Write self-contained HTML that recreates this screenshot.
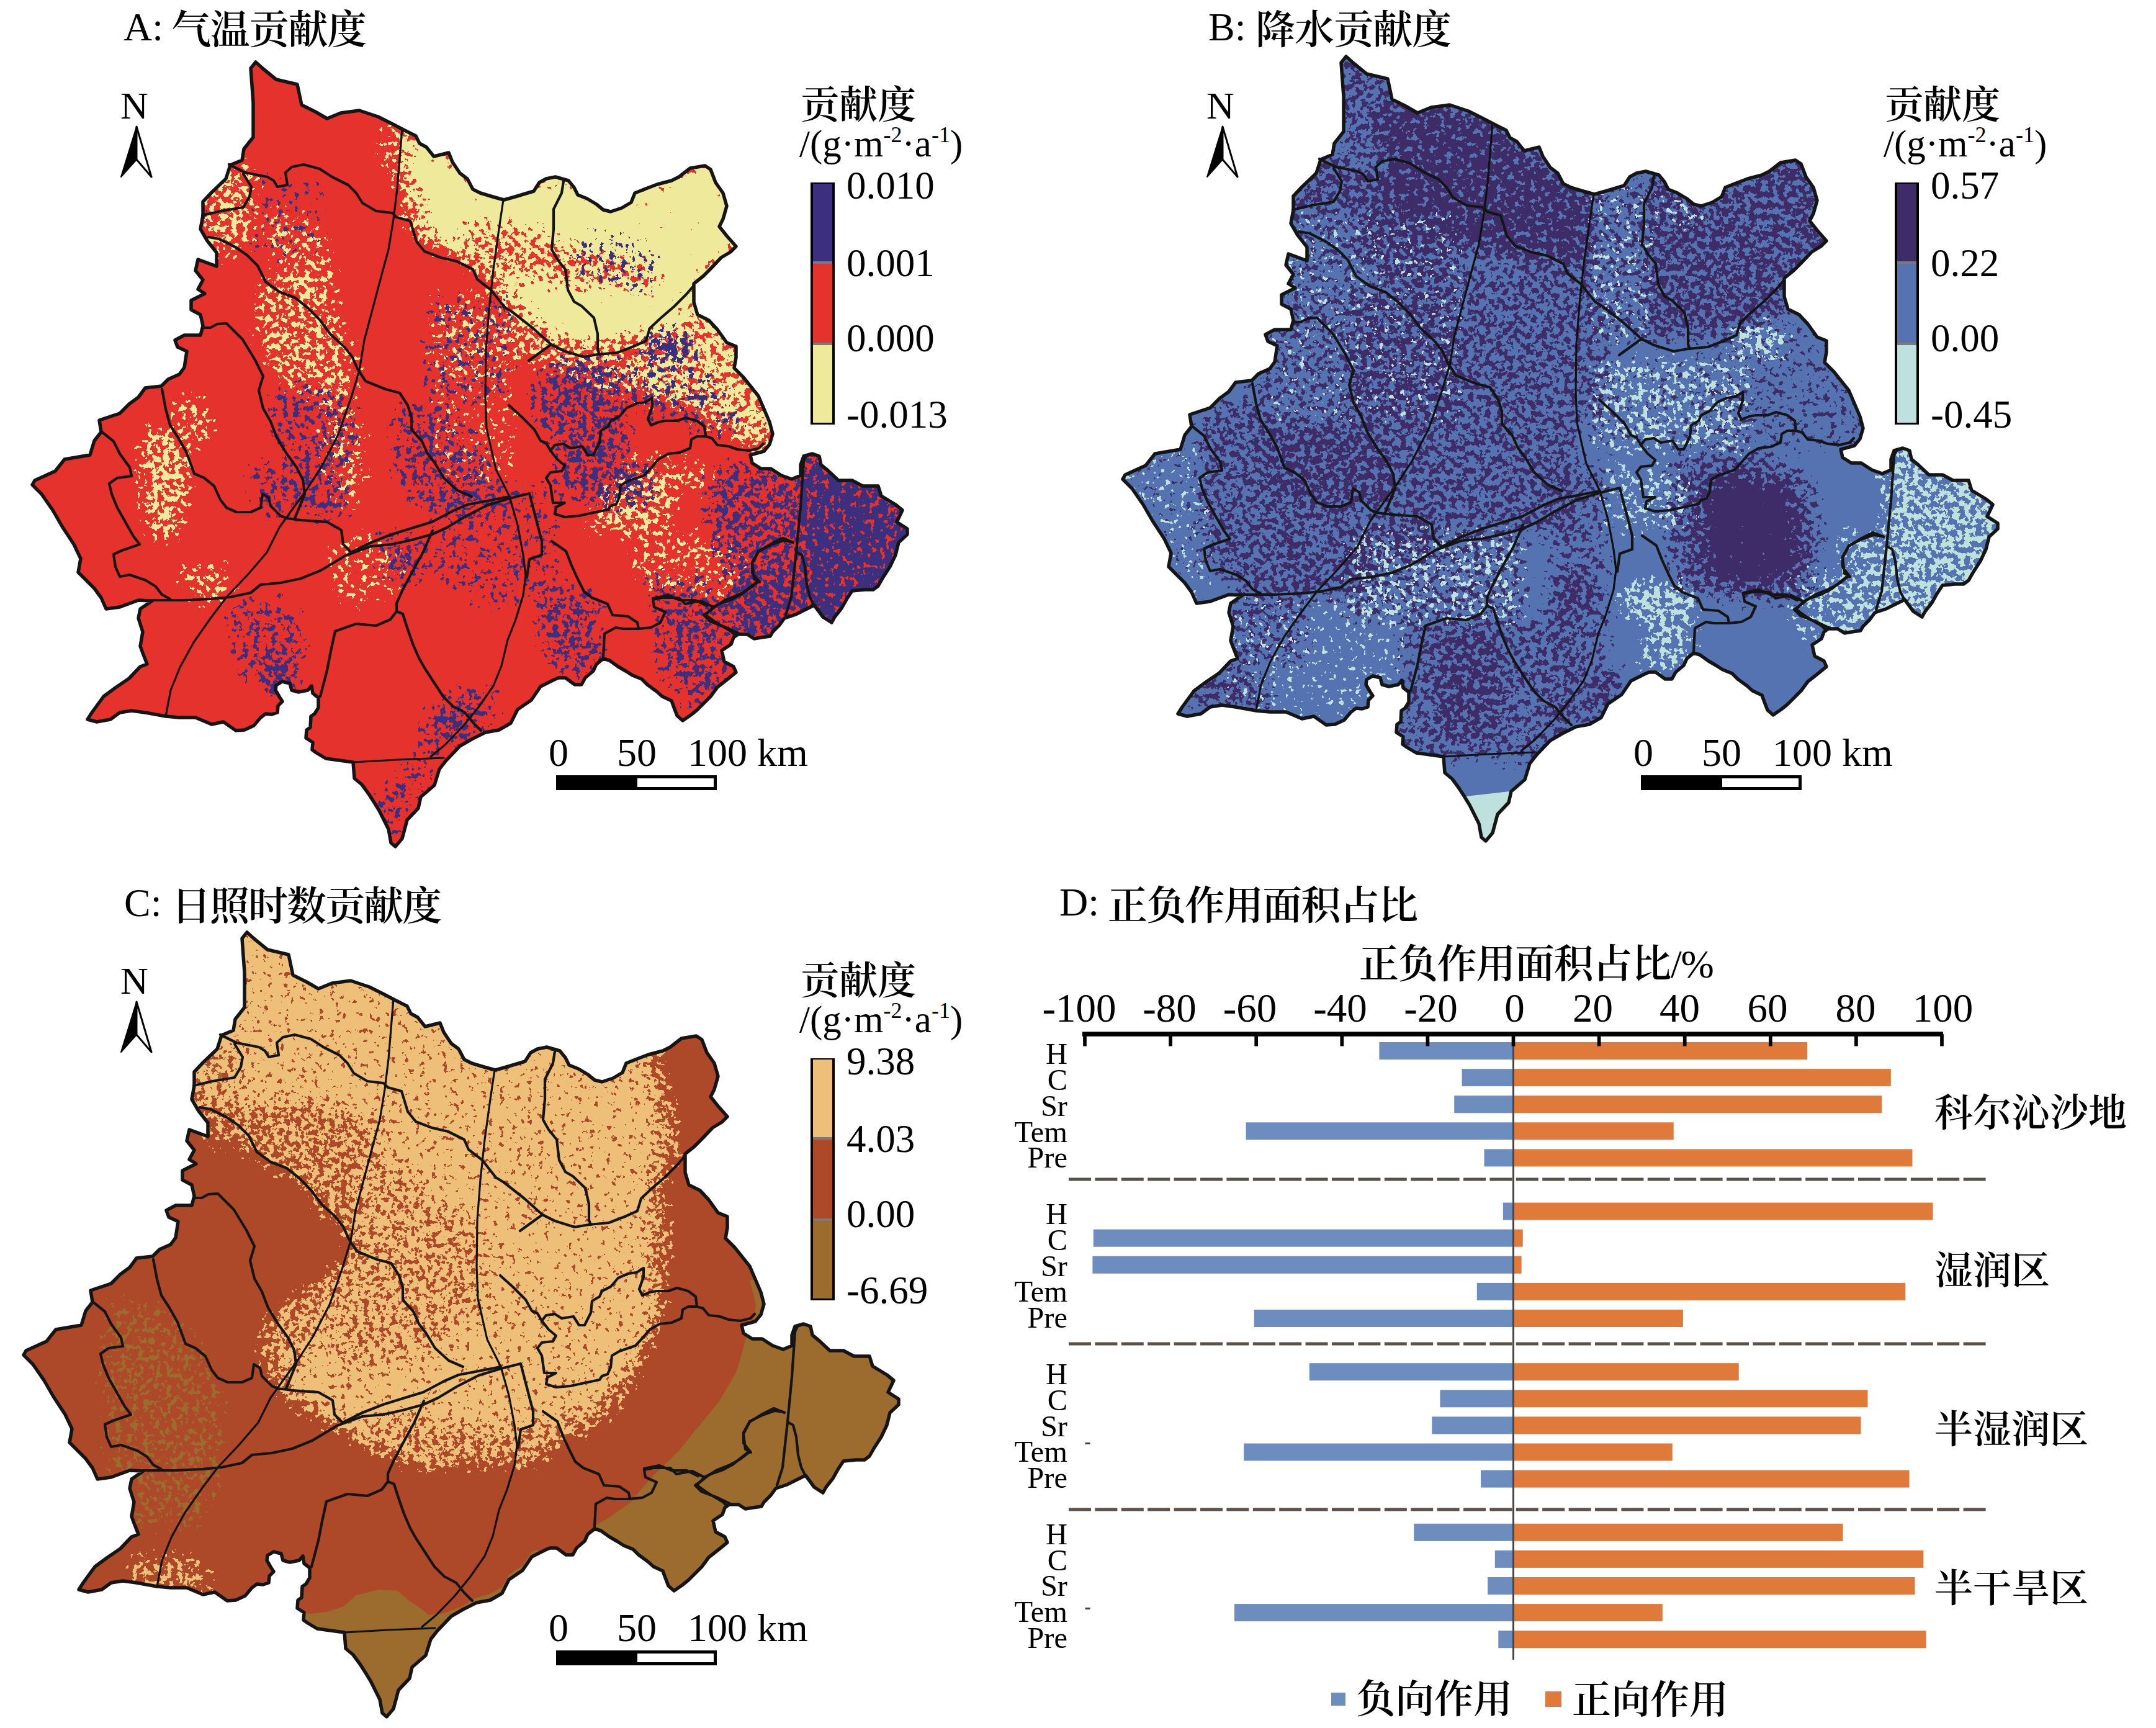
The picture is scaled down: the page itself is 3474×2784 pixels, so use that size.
<!DOCTYPE html>
<html><head><meta charset="utf-8"><title>贡献度</title>
<style>html,body{margin:0;padding:0;background:#fff;}body{width:3474px;height:2784px;overflow:hidden;}svg{display:block;}</style>
</head><body>
<svg xmlns="http://www.w3.org/2000/svg" width="3474" height="2784" viewBox="0 0 3474 2784">
<rect width="3474" height="2784" fill="#fff"/>
<defs><clipPath id="mclip"><path d="M412 100L423 110L445 128L479 136L486 169L508 180L527 191L549 182L579 178L609 188L631 199L652 210L670 219L676 231L687 237L699 252L711 249L723 246L729 261L741 279L753 288L762 305L774 311L794 317L812 322L830 317L860 308L869 294L880 288L895 285L916 291L925 302L931 314L946 320L961 329L972 338L984 341L1002 335L1017 326L1023 311L1038 305L1059 297L1082 291L1094 285L1112 271L1136 267L1145 273L1153 294L1165 311L1171 332L1165 353L1159 365L1171 380L1186 397L1177 406L1162 415L1145 433L1133 445L1118 457L1118 487L1124 507L1142 516L1156 531L1171 552L1186 558L1186 576L1183 593L1198 608L1210 623L1222 638L1231 659L1240 680L1245 699L1240 716L1231 727L1209 733L1212 746L1226 755L1242 755L1259 766L1276 772L1290 766L1290 749L1295 735L1309 731L1320 735L1323 749L1334 758L1351 774L1373 774L1390 783L1415 783L1420 799L1443 813L1454 822L1445 841L1462 852L1462 861L1448 874L1443 894L1434 913L1423 930L1415 944L1407 950L1393 950L1373 952L1365 964L1356 980L1345 994L1340 1003L1326 994L1312 975L1300 981L1282 990L1264 996L1256 1007L1245 1018L1241 1025L1227 1027L1215 1029L1204 1022L1189 1022L1182 1027L1178 1038L1163 1048L1167 1066L1182 1074L1186 1083L1175 1092L1165 1100L1156 1107L1145 1122L1134 1133L1123 1144L1113 1152L1100 1161L1091 1153L1086 1140L1082 1129L1067 1122L1058 1114L1043 1103L1034 1094L1019 1088L1008 1081L996 1074L982 1064L972 1061L961 1070L956 1081L943 1092L937 1103L926 1103L911 1092L900 1092L893 1095L871 1106L856 1128L834 1143L823 1165L804 1176L782 1180L760 1191L741 1202L719 1225L708 1239L700 1265L678 1284L674 1302L656 1321L648 1351L637 1364L630 1358L626 1336L611 1306L603 1293L594 1279L583 1264L571 1254L569 1228L554 1226L525 1222L510 1213L503 1208L504 1196L493 1189L494 1176L500 1172L501 1154L507 1150L513 1140L513 1124L504 1117L502 1105L496 1112L481 1115L470 1112L467 1101L455 1098L445 1104L444 1112L451 1124L455 1130L448 1137L447 1148L438 1151L428 1150L420 1156L409 1169L394 1176L380 1177L360 1163L341 1167L315 1156L289 1156L267 1154L234 1148L212 1145L193 1148L178 1159L156 1163L141 1159L148 1148L167 1122L186 1108L208 1093L226 1074L237 1070L230 1052L226 1041L230 1018L223 996L226 981L245 968L223 967L193 978L171 981L163 963L152 948L141 937L126 922L130 900L119 877L100 848L85 822L67 796L52 781L56 774L89 759L104 740L145 733L152 710L163 696L160 677L193 666L208 651L223 640L234 625L260 622L271 611L289 603L297 592L301 566L286 559L282 548L297 540L323 540L327 525L323 507L308 499L308 484L330 473L319 466L327 451L315 436L319 418L349 429L349 407L334 388L323 369L327 347L327 325L341 310L364 288L371 266L390 258L393 240L408 221L408 165L404 110Z"/></clipPath><filter id="d1" filterUnits="userSpaceOnUse" x="0" y="60" width="1520" height="1340" color-interpolation-filters="sRGB"><feGaussianBlur in="SourceAlpha" stdDeviation="12" result="b"/><feComponentTransfer in="b" result="d"><feFuncA type="table" tableValues="0.000 0.300 0.334 0.365 0.393 0.416 0.441 0.454 0.469 0.485 0.499 0.516 0.531 0.546 0.561 0.585 0.608 0.633 0.663 0.699 1.000"/></feComponentTransfer><feTurbulence type="fractalNoise" baseFrequency="0.11" numOctaves="3" seed="18" result="n"/><feColorMatrix in="n" type="matrix" values="0 0 0 0 0 0 0 0 0 0 0 0 0 0 0 1 0 0 0 0" result="na"/><feComposite in="na" in2="d" operator="arithmetic" k1="0" k2="1" k3="1" k4="-1" result="s"/><feComponentTransfer in="s" result="m"><feFuncA type="discrete" tableValues="0 1 1 1 1 1 1 1 1 1 1 1 1 1 1 1 1 1 1 1 1 1 1 1 1 1 1 1 1 1 1 1 1 1 1 1 1 1 1 1 1 1 1 1 1 1 1 1 1 1 1 1 1 1 1 1 1 1 1 1 1"/></feComponentTransfer><feFlood flood-color="#efe99b"/><feComposite in2="m" operator="in"/></filter><filter id="d2" filterUnits="userSpaceOnUse" x="0" y="60" width="1520" height="1340" color-interpolation-filters="sRGB"><feGaussianBlur in="SourceAlpha" stdDeviation="12" result="b"/><feComponentTransfer in="b" result="d"><feFuncA type="table" tableValues="0.000 0.300 0.334 0.365 0.393 0.416 0.441 0.454 0.469 0.485 0.499 0.516 0.531 0.546 0.561 0.585 0.608 0.633 0.663 0.699 1.000"/></feComponentTransfer><feTurbulence type="fractalNoise" baseFrequency="0.11" numOctaves="3" seed="25" result="n"/><feColorMatrix in="n" type="matrix" values="0 0 0 0 0 0 0 0 0 0 0 0 0 0 0 1 0 0 0 0" result="na"/><feComposite in="na" in2="d" operator="arithmetic" k1="0" k2="1" k3="1" k4="-1" result="s"/><feComponentTransfer in="s" result="m"><feFuncA type="discrete" tableValues="0 1 1 1 1 1 1 1 1 1 1 1 1 1 1 1 1 1 1 1 1 1 1 1 1 1 1 1 1 1 1 1 1 1 1 1 1 1 1 1 1 1 1 1 1 1 1 1 1 1 1 1 1 1 1 1 1 1 1 1 1"/></feComponentTransfer><feFlood flood-color="#e5322d"/><feComposite in2="m" operator="in"/></filter><filter id="d3" filterUnits="userSpaceOnUse" x="0" y="60" width="1520" height="1340" color-interpolation-filters="sRGB"><feGaussianBlur in="SourceAlpha" stdDeviation="12" result="b"/><feComponentTransfer in="b" result="d"><feFuncA type="table" tableValues="0.000 0.300 0.334 0.365 0.393 0.416 0.441 0.454 0.469 0.485 0.499 0.516 0.531 0.546 0.561 0.585 0.608 0.633 0.663 0.699 1.000"/></feComponentTransfer><feTurbulence type="fractalNoise" baseFrequency="0.11" numOctaves="3" seed="32" result="n"/><feColorMatrix in="n" type="matrix" values="0 0 0 0 0 0 0 0 0 0 0 0 0 0 0 1 0 0 0 0" result="na"/><feComposite in="na" in2="d" operator="arithmetic" k1="0" k2="1" k3="1" k4="-1" result="s"/><feComponentTransfer in="s" result="m"><feFuncA type="discrete" tableValues="0 1 1 1 1 1 1 1 1 1 1 1 1 1 1 1 1 1 1 1 1 1 1 1 1 1 1 1 1 1 1 1 1 1 1 1 1 1 1 1 1 1 1 1 1 1 1 1 1 1 1 1 1 1 1 1 1 1 1 1 1"/></feComponentTransfer><feFlood flood-color="#3c2f7d"/><feComposite in2="m" operator="in"/></filter><filter id="d4" filterUnits="userSpaceOnUse" x="0" y="60" width="1520" height="1340" color-interpolation-filters="sRGB"><feGaussianBlur in="SourceAlpha" stdDeviation="12" result="b"/><feComponentTransfer in="b" result="d"><feFuncA type="table" tableValues="0.000 0.300 0.334 0.365 0.393 0.416 0.441 0.454 0.469 0.485 0.499 0.516 0.531 0.546 0.561 0.585 0.608 0.633 0.663 0.699 1.000"/></feComponentTransfer><feTurbulence type="fractalNoise" baseFrequency="0.11" numOctaves="3" seed="39" result="n"/><feColorMatrix in="n" type="matrix" values="0 0 0 0 0 0 0 0 0 0 0 0 0 0 0 1 0 0 0 0" result="na"/><feComposite in="na" in2="d" operator="arithmetic" k1="0" k2="1" k3="1" k4="-1" result="s"/><feComponentTransfer in="s" result="m"><feFuncA type="discrete" tableValues="0 1 1 1 1 1 1 1 1 1 1 1 1 1 1 1 1 1 1 1 1 1 1 1 1 1 1 1 1 1 1 1 1 1 1 1 1 1 1 1 1 1 1 1 1 1 1 1 1 1 1 1 1 1 1 1 1 1 1 1 1"/></feComponentTransfer><feFlood flood-color="#3d2c68"/><feComposite in2="m" operator="in"/></filter><filter id="d5" filterUnits="userSpaceOnUse" x="0" y="60" width="1520" height="1340" color-interpolation-filters="sRGB"><feGaussianBlur in="SourceAlpha" stdDeviation="12" result="b"/><feComponentTransfer in="b" result="d"><feFuncA type="table" tableValues="0.000 0.300 0.334 0.365 0.393 0.416 0.441 0.454 0.469 0.485 0.499 0.516 0.531 0.546 0.561 0.585 0.608 0.633 0.663 0.699 1.000"/></feComponentTransfer><feTurbulence type="fractalNoise" baseFrequency="0.11" numOctaves="3" seed="46" result="n"/><feColorMatrix in="n" type="matrix" values="0 0 0 0 0 0 0 0 0 0 0 0 0 0 0 1 0 0 0 0" result="na"/><feComposite in="na" in2="d" operator="arithmetic" k1="0" k2="1" k3="1" k4="-1" result="s"/><feComponentTransfer in="s" result="m"><feFuncA type="discrete" tableValues="0 1 1 1 1 1 1 1 1 1 1 1 1 1 1 1 1 1 1 1 1 1 1 1 1 1 1 1 1 1 1 1 1 1 1 1 1 1 1 1 1 1 1 1 1 1 1 1 1 1 1 1 1 1 1 1 1 1 1 1 1"/></feComponentTransfer><feFlood flood-color="#bfe1dd"/><feComposite in2="m" operator="in"/></filter><filter id="d6" filterUnits="userSpaceOnUse" x="0" y="60" width="1520" height="1340" color-interpolation-filters="sRGB"><feGaussianBlur in="SourceAlpha" stdDeviation="12" result="b"/><feComponentTransfer in="b" result="d"><feFuncA type="table" tableValues="0.000 0.300 0.334 0.365 0.393 0.416 0.441 0.454 0.469 0.485 0.499 0.516 0.531 0.546 0.561 0.585 0.608 0.633 0.663 0.699 1.000"/></feComponentTransfer><feTurbulence type="fractalNoise" baseFrequency="0.11" numOctaves="3" seed="53" result="n"/><feColorMatrix in="n" type="matrix" values="0 0 0 0 0 0 0 0 0 0 0 0 0 0 0 1 0 0 0 0" result="na"/><feComposite in="na" in2="d" operator="arithmetic" k1="0" k2="1" k3="1" k4="-1" result="s"/><feComponentTransfer in="s" result="m"><feFuncA type="discrete" tableValues="0 1 1 1 1 1 1 1 1 1 1 1 1 1 1 1 1 1 1 1 1 1 1 1 1 1 1 1 1 1 1 1 1 1 1 1 1 1 1 1 1 1 1 1 1 1 1 1 1 1 1 1 1 1 1 1 1 1 1 1 1"/></feComponentTransfer><feFlood flood-color="#edbf78"/><feComposite in2="m" operator="in"/></filter><filter id="d7" filterUnits="userSpaceOnUse" x="0" y="60" width="1520" height="1340" color-interpolation-filters="sRGB"><feGaussianBlur in="SourceAlpha" stdDeviation="12" result="b"/><feComponentTransfer in="b" result="d"><feFuncA type="table" tableValues="0.000 0.300 0.334 0.365 0.393 0.416 0.441 0.454 0.469 0.485 0.499 0.516 0.531 0.546 0.561 0.585 0.608 0.633 0.663 0.699 1.000"/></feComponentTransfer><feTurbulence type="fractalNoise" baseFrequency="0.11" numOctaves="3" seed="60" result="n"/><feColorMatrix in="n" type="matrix" values="0 0 0 0 0 0 0 0 0 0 0 0 0 0 0 1 0 0 0 0" result="na"/><feComposite in="na" in2="d" operator="arithmetic" k1="0" k2="1" k3="1" k4="-1" result="s"/><feComponentTransfer in="s" result="m"><feFuncA type="discrete" tableValues="0 1 1 1 1 1 1 1 1 1 1 1 1 1 1 1 1 1 1 1 1 1 1 1 1 1 1 1 1 1 1 1 1 1 1 1 1 1 1 1 1 1 1 1 1 1 1 1 1 1 1 1 1 1 1 1 1 1 1 1 1"/></feComponentTransfer><feFlood flood-color="#ad4829"/><feComposite in2="m" operator="in"/></filter><filter id="d8" filterUnits="userSpaceOnUse" x="0" y="60" width="1520" height="1340" color-interpolation-filters="sRGB"><feGaussianBlur in="SourceAlpha" stdDeviation="12" result="b"/><feComponentTransfer in="b" result="d"><feFuncA type="table" tableValues="0.000 0.300 0.334 0.365 0.393 0.416 0.441 0.454 0.469 0.485 0.499 0.516 0.531 0.546 0.561 0.585 0.608 0.633 0.663 0.699 1.000"/></feComponentTransfer><feTurbulence type="fractalNoise" baseFrequency="0.11" numOctaves="3" seed="67" result="n"/><feColorMatrix in="n" type="matrix" values="0 0 0 0 0 0 0 0 0 0 0 0 0 0 0 1 0 0 0 0" result="na"/><feComposite in="na" in2="d" operator="arithmetic" k1="0" k2="1" k3="1" k4="-1" result="s"/><feComponentTransfer in="s" result="m"><feFuncA type="discrete" tableValues="0 1 1 1 1 1 1 1 1 1 1 1 1 1 1 1 1 1 1 1 1 1 1 1 1 1 1 1 1 1 1 1 1 1 1 1 1 1 1 1 1 1 1 1 1 1 1 1 1 1 1 1 1 1 1 1 1 1 1 1 1"/></feComponentTransfer><feFlood flood-color="#9c6b2e"/><feComposite in2="m" operator="in"/></filter></defs>
<g transform="translate(0 0)">
<g clip-path="url(#mclip)">
<path d="M412 100L423 110L445 128L479 136L486 169L508 180L527 191L549 182L579 178L609 188L631 199L652 210L670 219L676 231L687 237L699 252L711 249L723 246L729 261L741 279L753 288L762 305L774 311L794 317L812 322L830 317L860 308L869 294L880 288L895 285L916 291L925 302L931 314L946 320L961 329L972 338L984 341L1002 335L1017 326L1023 311L1038 305L1059 297L1082 291L1094 285L1112 271L1136 267L1145 273L1153 294L1165 311L1171 332L1165 353L1159 365L1171 380L1186 397L1177 406L1162 415L1145 433L1133 445L1118 457L1118 487L1124 507L1142 516L1156 531L1171 552L1186 558L1186 576L1183 593L1198 608L1210 623L1222 638L1231 659L1240 680L1245 699L1240 716L1231 727L1209 733L1212 746L1226 755L1242 755L1259 766L1276 772L1290 766L1290 749L1295 735L1309 731L1320 735L1323 749L1334 758L1351 774L1373 774L1390 783L1415 783L1420 799L1443 813L1454 822L1445 841L1462 852L1462 861L1448 874L1443 894L1434 913L1423 930L1415 944L1407 950L1393 950L1373 952L1365 964L1356 980L1345 994L1340 1003L1326 994L1312 975L1300 981L1282 990L1264 996L1256 1007L1245 1018L1241 1025L1227 1027L1215 1029L1204 1022L1189 1022L1182 1027L1178 1038L1163 1048L1167 1066L1182 1074L1186 1083L1175 1092L1165 1100L1156 1107L1145 1122L1134 1133L1123 1144L1113 1152L1100 1161L1091 1153L1086 1140L1082 1129L1067 1122L1058 1114L1043 1103L1034 1094L1019 1088L1008 1081L996 1074L982 1064L972 1061L961 1070L956 1081L943 1092L937 1103L926 1103L911 1092L900 1092L893 1095L871 1106L856 1128L834 1143L823 1165L804 1176L782 1180L760 1191L741 1202L719 1225L708 1239L700 1265L678 1284L674 1302L656 1321L648 1351L637 1364L630 1358L626 1336L611 1306L603 1293L594 1279L583 1264L571 1254L569 1228L554 1226L525 1222L510 1213L503 1208L504 1196L493 1189L494 1176L500 1172L501 1154L507 1150L513 1140L513 1124L504 1117L502 1105L496 1112L481 1115L470 1112L467 1101L455 1098L445 1104L444 1112L451 1124L455 1130L448 1137L447 1148L438 1151L428 1150L420 1156L409 1169L394 1176L380 1177L360 1163L341 1167L315 1156L289 1156L267 1154L234 1148L212 1145L193 1148L178 1159L156 1163L141 1159L148 1148L167 1122L186 1108L208 1093L226 1074L237 1070L230 1052L226 1041L230 1018L223 996L226 981L245 968L223 967L193 978L171 981L163 963L152 948L141 937L126 922L130 900L119 877L100 848L85 822L67 796L52 781L56 774L89 759L104 740L145 733L152 710L163 696L160 677L193 666L208 651L223 640L234 625L260 622L271 611L289 603L297 592L301 566L286 559L282 548L297 540L323 540L327 525L323 507L308 499L308 484L330 473L319 466L327 451L315 436L319 418L349 429L349 407L334 388L323 369L327 347L327 325L341 310L364 288L371 266L390 258L393 240L408 221L408 165L404 110Z" fill="#e5322d"/>
<g filter="url(#d1)"><polygon points="645,195 700,225 780,290 860,290 900,270 1000,320 1100,260 1160,260 1200,350 1190,410 1140,450 1118,470 1118,500 1100,530 1070,548 1026,552 980,560 937,560 877,535 830,505 810,472 790,445 760,425 730,405 700,395 672,375 655,330 648,280" fill-opacity="0.975"/><polygon points="1118,470 1150,480 1190,540 1200,600 1250,660 1260,735 1234,740 1200,710 1170,690 1140,675 1110,660 1080,650 1040,640 1006,620 1010,585 1040,565 1070,555 1100,535 1118,505" fill-opacity="0.720"/><polygon points="830,505 877,535 937,560 980,562 1010,585 1006,620 980,640 940,610 890,590 840,575 820,540" fill-opacity="0.500"/><polygon points="992,772 1040,765 1076,780 1090,820 1060,845 1000,856 950,850 960,820" fill-opacity="0.550"/><polygon points="1034,842 1100,850 1160,870 1200,910 1190,960 1120,965 1050,950 1010,900" fill-opacity="0.250"/><polygon points="997,740 1060,735 1120,745 1150,760 1130,790 1080,790 1030,770" fill-opacity="0.300"/><polygon points="334,265 380,262 410,280 408,330 400,380 370,414 340,410 330,350" fill-opacity="0.500"/><polygon points="427,340 480,345 520,380 538,430 540,488 500,480 460,440 430,400" fill-opacity="0.320"/><polygon points="426,456 475,440 523,462 540,511 566,560 572,608 556,657 523,641 475,625 436,592 416,544 419,495" fill-opacity="0.450"/><polygon points="523,650 570,660 588,720 585,790 560,820 530,780 520,700" fill-opacity="0.300"/><polygon points="231,700 270,690 300,720 300,770 290,830 280,865 245,860 235,800" fill-opacity="0.650"/><polygon points="286,641 320,640 335,680 332,716 300,716 288,680" fill-opacity="0.400"/><polygon points="297,910 340,905 375,925 371,963 330,968 300,955" fill-opacity="0.350"/><polygon points="612,210 650,215 650,284 620,284" fill-opacity="0.280"/><polygon points="700,480 825,480 825,600 760,620 700,600" fill-opacity="0.300"/><polygon points="700,620 825,620 830,760 760,780 700,760" fill-opacity="0.150"/><polygon points="530,870 600,860 650,900 640,960 580,980 530,950" fill-opacity="0.220"/></g>
<g filter="url(#d2)"><polygon points="744,366 818,366 907,395 1026,425 1062,438 1062,462 1026,460 907,458 818,443 760,415" fill-opacity="0.500"/><polygon points="640,290 672,300 690,360 660,360 645,330" fill-opacity="0.300"/></g>
<g filter="url(#d3)"><polygon points="1290,725 1330,740 1400,770 1470,830 1470,880 1430,960 1400,990 1340,1010 1300,1000 1290,900" fill-opacity="0.880"/><polygon points="1178,936 1240,920 1290,930 1300,1000 1260,1030 1200,1040 1170,1000" fill-opacity="0.720"/><polygon points="1150,755 1200,750 1270,760 1292,800 1292,930 1240,925 1180,930 1150,880 1140,810" fill-opacity="0.550"/><polygon points="1040,930 1100,925 1150,930 1180,960 1160,1000 1110,1010 1060,990" fill-opacity="0.300"/><polygon points="900,580 960,575 1000,600 1011,700 1000,770 978,730 930,720 880,700 860,650 870,610" fill-opacity="0.550"/><polygon points="895,717 960,725 1000,745 1048,760 1050,800 1030,814 980,815 930,805 900,780" fill-opacity="0.550"/><polygon points="1045,540 1090,538 1117,548 1117,575 1080,580 1048,575" fill-opacity="0.850"/><polygon points="1000,580 1100,580 1160,620 1200,680 1150,700 1080,680 1020,650" fill-opacity="0.300"/><polygon points="700,480 825,480 825,600 800,650 700,650 680,600" fill-opacity="0.220"/><polygon points="700,786 895,786 895,961 800,980 700,940" fill-opacity="0.220"/><polygon points="637,657 700,650 760,700 800,760 799,819 740,830 680,820 640,760" fill-opacity="0.400"/><polygon points="442,625 520,620 572,660 572,755 520,760 460,740 440,690" fill-opacity="0.350"/><polygon points="475,755 540,750 560,790 556,836 500,836 476,800" fill-opacity="0.450"/><polygon points="408,751 460,750 482,790 482,826 430,826 408,790" fill-opacity="0.400"/><polygon points="612,863 660,860 686,890 686,937 640,940 612,910" fill-opacity="0.450"/><polygon points="408,284 519,284 519,414 408,414" fill-opacity="0.150"/><polygon points="371,974 440,965 482,990 490,1050 482,1100 440,1110 390,1080 371,1030" fill-opacity="0.350"/><polygon points="427,1060 464,1060 470,1100 455,1125 427,1120" fill-opacity="0.750"/><polygon points="871,950 930,945 964,970 964,1080 930,1085 890,1080 871,1020" fill-opacity="0.500"/><polygon points="1057,987 1110,985 1168,1010 1175,1090 1168,1135 1110,1130 1070,1080" fill-opacity="0.500"/><polygon points="700,1150 740,1150 770,1165 767,1195 720,1200 700,1180" fill-opacity="0.550"/><polygon points="700,1122 760,1110 800,1120 800,1150 760,1160 705,1190 690,1230 680,1270 650,1300 640,1340 611,1340 611,1290 650,1250 680,1200" fill-opacity="0.420"/><polygon points="930,380 1000,380 1060,420 1060,460 1000,470 930,440" fill-opacity="0.250"/><polygon points="300,290 330,280 340,330 320,380 300,370" fill-opacity="0.300"/></g>
</g>
<polyline points="648,207 640,304 634,353 626,402 613,450 600,499 587,548 579,597 566,640 545,700 518,752 494,789 470,822 450,850 430,890 400,925 365,962 340,995 312,1035 290,1075 275,1112 267,1154" fill="none" stroke="#111" stroke-width="3.2" stroke-linejoin="round" stroke-linecap="round"/>
<polyline points="811,322 804,369 795,434 788,499 783,564 782,638 784,690 799,756 821,800 834,846 843,894 847,927 843,959 831,998 818,1031 808,1073 795,1105 772,1138 746,1170 717,1200 694,1219" fill="none" stroke="#111" stroke-width="3.2" stroke-linejoin="round" stroke-linecap="round"/>
<polyline points="569,1228 640,1224 715,1221" fill="none" stroke="#111" stroke-width="3.2" stroke-linejoin="round" stroke-linecap="round"/>
<polyline points="369,265 395,278 431,285 441,291 447,301 463,298 460,278 470,269 489,265 515,272 535,285 561,298 574,311 584,327 606,340 632,343 639,350 661,356 665,369 671,389 684,405 710,415 736,421 762,434 769,450 791,467 813,495 826,503" fill="none" stroke="#151515" stroke-width="4.2" stroke-linejoin="round" stroke-linecap="round"/>
<polyline points="392,280 405,301 402,317 392,334 356,340 326,347" fill="none" stroke="#151515" stroke-width="4.2" stroke-linejoin="round" stroke-linecap="round"/>
<polyline points="336,382 353,385 379,398 398,411 415,428 428,454 450,470 476,480 496,496 515,515 532,538 554,558 567,574 576,594 589,614 621,627 644,633 657,653 663,672 663,692 680,711 689,731 700,745 715,770 737,790 760,800" fill="none" stroke="#151515" stroke-width="4.2" stroke-linejoin="round" stroke-linecap="round"/>
<polyline points="326,528 339,528 350,522 365,521 391,547 411,580 424,606 417,629 424,658 436,679 446,705 462,731 478,753 488,773 491,796 482,818 475,835" fill="none" stroke="#151515" stroke-width="4.2" stroke-linejoin="round" stroke-linecap="round"/>
<polyline points="261,627 267,659 274,685 287,705 300,728 306,744 313,763 329,770 345,783 355,805 365,818 381,825 404,825 420,818 423,796 433,802 436,815 452,831 462,835 485,838 527,841 550,854 553,877 566,890" fill="none" stroke="#151515" stroke-width="4.2" stroke-linejoin="round" stroke-linecap="round"/>
<polyline points="163,695 183,711 193,731 209,753 212,767 189,770 176,779 180,796 189,818 202,841 215,864 225,877 196,887 183,893 186,913 193,929 209,926 235,935 251,945 261,958 274,965" fill="none" stroke="#151515" stroke-width="4.2" stroke-linejoin="round" stroke-linecap="round"/>
<polyline points="245,967 297,967 339,965 371,962 404,955 420,942 452,939 485,932 517,919 557,895 598,880 631,877 663,870 696,861 720,850 750,832 785,814 821,803" fill="none" stroke="#151515" stroke-width="4.2" stroke-linejoin="round" stroke-linecap="round"/>
<polyline points="566,890 598,874 631,861 663,851 696,841 730,823 753,813 785,807 821,800" fill="none" stroke="#151515" stroke-width="4.2" stroke-linejoin="round" stroke-linecap="round"/>
<polyline points="697,855 681,891 665,920 649,950 639,972 639,985 629,998 606,1008 574,1005 540,1017 533,1049 527,1080 516,1122" fill="none" stroke="#151515" stroke-width="4.2" stroke-linejoin="round" stroke-linecap="round"/>
<polyline points="639,985 649,989 655,1008 665,1037 675,1060 684,1076 697,1096 714,1122 730,1138 749,1148 762,1164 775,1177" fill="none" stroke="#151515" stroke-width="4.2" stroke-linejoin="round" stroke-linecap="round"/>
<polyline points="821,803 853,795 873,872 873,894 853,901 849,930" fill="none" stroke="#151515" stroke-width="4.2" stroke-linejoin="round" stroke-linecap="round"/>
<polyline points="889,872 912,888 921,911 931,933 941,953 954,963 979,973 987,991 1012,993 1027,1003 1029,1013 1004,1013 992,1011 974,1021 972,1058" fill="none" stroke="#151515" stroke-width="4.2" stroke-linejoin="round" stroke-linecap="round"/>
<polyline points="908,292 905,311 892,337 892,369 889,402 898,418 911,434 915,467 925,486 937,493 957,512 963,538 963,564 966,571" fill="none" stroke="#151515" stroke-width="4.2" stroke-linejoin="round" stroke-linecap="round"/>
<polyline points="826,503 859,529 888,555 852,581" fill="none" stroke="#151515" stroke-width="4.2" stroke-linejoin="round" stroke-linecap="round"/>
<polyline points="888,555 908,565 940,575 963,571 995,568 1021,558 1041,549 1047,529 1064,513 1086,494 1106,474 1118,460" fill="none" stroke="#151515" stroke-width="4.2" stroke-linejoin="round" stroke-linecap="round"/>
<polyline points="820,653 840,671 861,692 871,710 880,714 887,726" fill="none" stroke="#151515" stroke-width="4.2" stroke-linejoin="round" stroke-linecap="round"/>
<polyline points="887,726 894,717 908,715 919,722 938,719 947,733 956,733 966,713 968,694 980,687 984,678 998,671 1010,657 1026,650 1040,648 1051,641 1051,655 1044,675 1049,685 1061,680 1072,678 1091,678 1105,673 1123,678 1135,687 1137,703 1147,706 1156,717 1174,719 1188,724 1207,726 1223,722 1230,715" fill="none" stroke="#151515" stroke-width="4.2" stroke-linejoin="round" stroke-linecap="round"/>
<polyline points="1137,703 1123,703 1114,708 1112,722 1096,729 1077,731 1061,740 1049,754 1038,766 1012,775 1000,782 998,801 993,812 984,815" fill="none" stroke="#151515" stroke-width="4.2" stroke-linejoin="round" stroke-linecap="round"/>
<polyline points="887,726 898,740 910,750 905,759 887,761 880,770 887,782 889,796 891,810 910,810 896,817 894,828 910,833 933,831 956,826 980,821 984,815" fill="none" stroke="#151515" stroke-width="4.2" stroke-linejoin="round" stroke-linecap="round"/>
<polyline points="1300,733 1295,743 1290,816 1283,889 1275,962 1266,991" fill="none" stroke="#151515" stroke-width="4.2" stroke-linejoin="round" stroke-linecap="round"/>
<polyline points="1283,889 1292,894 1297,913 1300,942 1305,962 1312,976" fill="none" stroke="#151515" stroke-width="4.2" stroke-linejoin="round" stroke-linecap="round"/>
<polyline points="1278,874 1261,867 1241,877 1222,889 1212,908 1215,933 1222,937 1205,950 1188,959 1168,967 1154,976 1144,984 1134,991 1144,1001 1168,1010 1191,1021" fill="none" stroke="#151515" stroke-width="4.2" stroke-linejoin="round" stroke-linecap="round"/>
<polyline points="1029,1013 1049,1011 1064,1003 1072,986 1054,978 1052,966 1067,963 1094,963 1104,973 1129,968 1149,978 1159,973 1179,966 1194,958 1219,938 1224,938 1212,923 1212,906 1222,888 1242,878 1262,871 1277,873" fill="none" stroke="#151515" stroke-width="4.2" stroke-linejoin="round" stroke-linecap="round"/>
<polyline points="1149,978 1137,991 1154,1003 1179,1018 1184,1023" fill="none" stroke="#151515" stroke-width="4.2" stroke-linejoin="round" stroke-linecap="round"/>
<polyline points="1052,964 1076,959 1096,967 1120,967 1139,976" fill="none" stroke="#151515" stroke-width="4.2" stroke-linejoin="round" stroke-linecap="round"/>
<path d="M412 100L423 110L445 128L479 136L486 169L508 180L527 191L549 182L579 178L609 188L631 199L652 210L670 219L676 231L687 237L699 252L711 249L723 246L729 261L741 279L753 288L762 305L774 311L794 317L812 322L830 317L860 308L869 294L880 288L895 285L916 291L925 302L931 314L946 320L961 329L972 338L984 341L1002 335L1017 326L1023 311L1038 305L1059 297L1082 291L1094 285L1112 271L1136 267L1145 273L1153 294L1165 311L1171 332L1165 353L1159 365L1171 380L1186 397L1177 406L1162 415L1145 433L1133 445L1118 457L1118 487L1124 507L1142 516L1156 531L1171 552L1186 558L1186 576L1183 593L1198 608L1210 623L1222 638L1231 659L1240 680L1245 699L1240 716L1231 727L1209 733L1212 746L1226 755L1242 755L1259 766L1276 772L1290 766L1290 749L1295 735L1309 731L1320 735L1323 749L1334 758L1351 774L1373 774L1390 783L1415 783L1420 799L1443 813L1454 822L1445 841L1462 852L1462 861L1448 874L1443 894L1434 913L1423 930L1415 944L1407 950L1393 950L1373 952L1365 964L1356 980L1345 994L1340 1003L1326 994L1312 975L1300 981L1282 990L1264 996L1256 1007L1245 1018L1241 1025L1227 1027L1215 1029L1204 1022L1189 1022L1182 1027L1178 1038L1163 1048L1167 1066L1182 1074L1186 1083L1175 1092L1165 1100L1156 1107L1145 1122L1134 1133L1123 1144L1113 1152L1100 1161L1091 1153L1086 1140L1082 1129L1067 1122L1058 1114L1043 1103L1034 1094L1019 1088L1008 1081L996 1074L982 1064L972 1061L961 1070L956 1081L943 1092L937 1103L926 1103L911 1092L900 1092L893 1095L871 1106L856 1128L834 1143L823 1165L804 1176L782 1180L760 1191L741 1202L719 1225L708 1239L700 1265L678 1284L674 1302L656 1321L648 1351L637 1364L630 1358L626 1336L611 1306L603 1293L594 1279L583 1264L571 1254L569 1228L554 1226L525 1222L510 1213L503 1208L504 1196L493 1189L494 1176L500 1172L501 1154L507 1150L513 1140L513 1124L504 1117L502 1105L496 1112L481 1115L470 1112L467 1101L455 1098L445 1104L444 1112L451 1124L455 1130L448 1137L447 1148L438 1151L428 1150L420 1156L409 1169L394 1176L380 1177L360 1163L341 1167L315 1156L289 1156L267 1154L234 1148L212 1145L193 1148L178 1159L156 1163L141 1159L148 1148L167 1122L186 1108L208 1093L226 1074L237 1070L230 1052L226 1041L230 1018L223 996L226 981L245 968L223 967L193 978L171 981L163 963L152 948L141 937L126 922L130 900L119 877L100 848L85 822L67 796L52 781L56 774L89 759L104 740L145 733L152 710L163 696L160 677L193 666L208 651L223 640L234 625L260 622L271 611L289 603L297 592L301 566L286 559L282 548L297 540L323 540L327 525L323 507L308 499L308 484L330 473L319 466L327 451L315 436L319 418L349 429L349 407L334 388L323 369L327 347L327 325L341 310L364 288L371 266L390 258L393 240L408 221L408 165L404 110Z" fill="none" stroke="#151515" stroke-width="5.5" stroke-linejoin="round"/>
</g>
<g transform="translate(1757 -9)">
<g clip-path="url(#mclip)">
<path d="M412 100L423 110L445 128L479 136L486 169L508 180L527 191L549 182L579 178L609 188L631 199L652 210L670 219L676 231L687 237L699 252L711 249L723 246L729 261L741 279L753 288L762 305L774 311L794 317L812 322L830 317L860 308L869 294L880 288L895 285L916 291L925 302L931 314L946 320L961 329L972 338L984 341L1002 335L1017 326L1023 311L1038 305L1059 297L1082 291L1094 285L1112 271L1136 267L1145 273L1153 294L1165 311L1171 332L1165 353L1159 365L1171 380L1186 397L1177 406L1162 415L1145 433L1133 445L1118 457L1118 487L1124 507L1142 516L1156 531L1171 552L1186 558L1186 576L1183 593L1198 608L1210 623L1222 638L1231 659L1240 680L1245 699L1240 716L1231 727L1209 733L1212 746L1226 755L1242 755L1259 766L1276 772L1290 766L1290 749L1295 735L1309 731L1320 735L1323 749L1334 758L1351 774L1373 774L1390 783L1415 783L1420 799L1443 813L1454 822L1445 841L1462 852L1462 861L1448 874L1443 894L1434 913L1423 930L1415 944L1407 950L1393 950L1373 952L1365 964L1356 980L1345 994L1340 1003L1326 994L1312 975L1300 981L1282 990L1264 996L1256 1007L1245 1018L1241 1025L1227 1027L1215 1029L1204 1022L1189 1022L1182 1027L1178 1038L1163 1048L1167 1066L1182 1074L1186 1083L1175 1092L1165 1100L1156 1107L1145 1122L1134 1133L1123 1144L1113 1152L1100 1161L1091 1153L1086 1140L1082 1129L1067 1122L1058 1114L1043 1103L1034 1094L1019 1088L1008 1081L996 1074L982 1064L972 1061L961 1070L956 1081L943 1092L937 1103L926 1103L911 1092L900 1092L893 1095L871 1106L856 1128L834 1143L823 1165L804 1176L782 1180L760 1191L741 1202L719 1225L708 1239L700 1265L678 1284L674 1302L656 1321L648 1351L637 1364L630 1358L626 1336L611 1306L603 1293L594 1279L583 1264L571 1254L569 1228L554 1226L525 1222L510 1213L503 1208L504 1196L493 1189L494 1176L500 1172L501 1154L507 1150L513 1140L513 1124L504 1117L502 1105L496 1112L481 1115L470 1112L467 1101L455 1098L445 1104L444 1112L451 1124L455 1130L448 1137L447 1148L438 1151L428 1150L420 1156L409 1169L394 1176L380 1177L360 1163L341 1167L315 1156L289 1156L267 1154L234 1148L212 1145L193 1148L178 1159L156 1163L141 1159L148 1148L167 1122L186 1108L208 1093L226 1074L237 1070L230 1052L226 1041L230 1018L223 996L226 981L245 968L223 967L193 978L171 981L163 963L152 948L141 937L126 922L130 900L119 877L100 848L85 822L67 796L52 781L56 774L89 759L104 740L145 733L152 710L163 696L160 677L193 666L208 651L223 640L234 625L260 622L271 611L289 603L297 592L301 566L286 559L282 548L297 540L323 540L327 525L323 507L308 499L308 484L330 473L319 466L327 451L315 436L319 418L349 429L349 407L334 388L323 369L327 347L327 325L341 310L364 288L371 266L390 258L393 240L408 221L408 165L404 110Z" fill="#5673b1"/>
<g filter="url(#d4)"><polygon points="468,170 560,175 640,200 700,235 760,290 812,318 806,445 783,440 700,432 640,422 590,410 540,380 500,340 470,290 460,220" fill-opacity="0.860"/><polygon points="395,95 430,105 480,135 486,170 470,230 460,265 420,265 400,230 400,150" fill-opacity="0.500"/><polygon points="320,256 400,256 433,280 433,345 380,350 320,345" fill-opacity="0.600"/><polygon points="433,280 470,285 490,330 520,330 590,415 600,440 590,472 520,472 460,460 433,420" fill-opacity="0.720"/><polygon points="290,350 433,350 433,420 416,472 416,545 290,545" fill-opacity="0.350"/><polygon points="600,440 700,438 743,440 743,690 700,690 600,690 595,560" fill-opacity="0.500"/><polygon points="743,440 806,445 830,557 830,690 743,690" fill-opacity="0.450"/><polygon points="416,472 520,472 590,472 595,580 600,690 520,690 416,690 416,580" fill-opacity="0.650"/><polygon points="260,545 416,545 416,690 260,690" fill-opacity="0.350"/><polygon points="276,690 416,690 485,700 485,826 400,830 300,826 276,760" fill-opacity="0.700"/><polygon points="180,659 276,659 276,760 300,826 346,902 363,972 250,972 180,900" fill-opacity="0.500"/><polygon points="485,690 600,690 700,690 783,690 783,868 700,868 600,868 485,826" fill-opacity="0.500"/><polygon points="416,868 560,868 694,868 694,1007 560,1007 416,1007" fill-opacity="0.380"/><polygon points="224,972 346,972 346,1076 224,1076" fill-opacity="0.400"/><polygon points="170,1085 276,1085 290,1150 170,1160" fill-opacity="0.500"/><polygon points="503,1007 783,1007 783,1233 503,1233" fill-opacity="0.420"/><polygon points="555,1024 659,1024 659,1198 555,1198" fill-opacity="0.550"/><polygon points="900,272 1000,280 1100,250 1160,260 1200,350 1190,410 1140,450 1118,470 1118,510 1060,540 980,550 900,557 895,450" fill-opacity="0.650"/><polygon points="806,313 900,300 900,557 806,557" fill-opacity="0.300"/><polygon points="986,540 1060,540 1118,510 1247,640 1247,731 986,731" fill-opacity="0.200"/><polygon points="813,592 986,592 1056,640 1056,731 813,731" fill-opacity="0.150"/><polygon points="934,759 1000,745 1100,745 1160,790 1175,880 1160,968 1050,975 950,960 930,870" fill-opacity="0.600"/><polygon points="990,780 1050,772 1130,790 1148,860 1140,945 1060,955 995,945 980,860" fill-opacity="0.930"/><polygon points="743,759 830,759 830,1176 743,1176" fill-opacity="0.350"/><polygon points="743,933 813,933 813,1002 743,1002" fill-opacity="0.600"/><polygon points="806,1089 858,1089 858,1159 806,1159" fill-opacity="0.650"/><polygon points="40,730 190,730 190,990 40,990" fill-opacity="0.060"/><polygon points="300,830 416,830 460,850 460,966 400,970 346,960 310,900" fill-opacity="0.500"/><polygon points="458,838 566,838 566,904 458,904" fill-opacity="0.580"/><polygon points="406,904 458,904 458,966 406,966" fill-opacity="0.300"/></g>
<g filter="url(#d5)"><polygon points="1282,730 1400,740 1480,830 1480,1000 1282,1000" fill-opacity="0.550"/><polygon points="1212,870 1282,870 1282,1023 1212,1023" fill-opacity="0.400"/><polygon points="858,954 930,950 969,960 969,995 900,1000 858,995" fill-opacity="0.700"/><polygon points="893,1002 969,1002 969,1089 893,1089" fill-opacity="0.450"/><polygon points="830,759 930,759 969,800 969,863 830,863" fill-opacity="0.250"/><polygon points="1136,933 1212,933 1265,1030 1136,1030" fill-opacity="0.300"/><polygon points="917,331 986,331 986,366 917,366" fill-opacity="0.300"/><polygon points="806,313 900,313 900,557 806,557" fill-opacity="0.150"/><polygon points="1039,539 1115,539 1115,581 1039,581" fill-opacity="0.600"/><polygon points="813,592 1056,592 1056,731 813,731" fill-opacity="0.300"/><polygon points="416,868 694,868 694,1007 416,1007" fill-opacity="0.250"/><polygon points="40,730 190,730 190,990 40,990" fill-opacity="0.100"/><polygon points="224,972 503,972 503,1163 224,1163" fill-opacity="0.100"/><polygon points="290,350 600,350 600,690 290,690" fill-opacity="0.080"/></g>
<polygon points="560,1296 587,1294 692,1282 720,1280 720,1400 560,1400" fill="#bfe1dd"/>
</g>
<polyline points="648,207 640,304 634,353 626,402 613,450 600,499 587,548 579,597 566,640 545,700 518,752 494,789 470,822 450,850 430,890 400,925 365,962 340,995 312,1035 290,1075 275,1112 267,1154" fill="none" stroke="#111" stroke-width="3.2" stroke-linejoin="round" stroke-linecap="round"/>
<polyline points="811,322 804,369 795,434 788,499 783,564 782,638 784,690 799,756 821,800 834,846 843,894 847,927 843,959 831,998 818,1031 808,1073 795,1105 772,1138 746,1170 717,1200 694,1219" fill="none" stroke="#111" stroke-width="3.2" stroke-linejoin="round" stroke-linecap="round"/>
<polyline points="569,1228 640,1224 715,1221" fill="none" stroke="#111" stroke-width="3.2" stroke-linejoin="round" stroke-linecap="round"/>
<polyline points="369,265 395,278 431,285 441,291 447,301 463,298 460,278 470,269 489,265 515,272 535,285 561,298 574,311 584,327 606,340 632,343 639,350 661,356 665,369 671,389 684,405 710,415 736,421 762,434 769,450 791,467 813,495 826,503" fill="none" stroke="#151515" stroke-width="4.2" stroke-linejoin="round" stroke-linecap="round"/>
<polyline points="392,280 405,301 402,317 392,334 356,340 326,347" fill="none" stroke="#151515" stroke-width="4.2" stroke-linejoin="round" stroke-linecap="round"/>
<polyline points="336,382 353,385 379,398 398,411 415,428 428,454 450,470 476,480 496,496 515,515 532,538 554,558 567,574 576,594 589,614 621,627 644,633 657,653 663,672 663,692 680,711 689,731 700,745 715,770 737,790 760,800" fill="none" stroke="#151515" stroke-width="4.2" stroke-linejoin="round" stroke-linecap="round"/>
<polyline points="326,528 339,528 350,522 365,521 391,547 411,580 424,606 417,629 424,658 436,679 446,705 462,731 478,753 488,773 491,796 482,818 475,835" fill="none" stroke="#151515" stroke-width="4.2" stroke-linejoin="round" stroke-linecap="round"/>
<polyline points="261,627 267,659 274,685 287,705 300,728 306,744 313,763 329,770 345,783 355,805 365,818 381,825 404,825 420,818 423,796 433,802 436,815 452,831 462,835 485,838 527,841 550,854 553,877 566,890" fill="none" stroke="#151515" stroke-width="4.2" stroke-linejoin="round" stroke-linecap="round"/>
<polyline points="163,695 183,711 193,731 209,753 212,767 189,770 176,779 180,796 189,818 202,841 215,864 225,877 196,887 183,893 186,913 193,929 209,926 235,935 251,945 261,958 274,965" fill="none" stroke="#151515" stroke-width="4.2" stroke-linejoin="round" stroke-linecap="round"/>
<polyline points="245,967 297,967 339,965 371,962 404,955 420,942 452,939 485,932 517,919 557,895 598,880 631,877 663,870 696,861 720,850 750,832 785,814 821,803" fill="none" stroke="#151515" stroke-width="4.2" stroke-linejoin="round" stroke-linecap="round"/>
<polyline points="566,890 598,874 631,861 663,851 696,841 730,823 753,813 785,807 821,800" fill="none" stroke="#151515" stroke-width="4.2" stroke-linejoin="round" stroke-linecap="round"/>
<polyline points="697,855 681,891 665,920 649,950 639,972 639,985 629,998 606,1008 574,1005 540,1017 533,1049 527,1080 516,1122" fill="none" stroke="#151515" stroke-width="4.2" stroke-linejoin="round" stroke-linecap="round"/>
<polyline points="639,985 649,989 655,1008 665,1037 675,1060 684,1076 697,1096 714,1122 730,1138 749,1148 762,1164 775,1177" fill="none" stroke="#151515" stroke-width="4.2" stroke-linejoin="round" stroke-linecap="round"/>
<polyline points="821,803 853,795 873,872 873,894 853,901 849,930" fill="none" stroke="#151515" stroke-width="4.2" stroke-linejoin="round" stroke-linecap="round"/>
<polyline points="889,872 912,888 921,911 931,933 941,953 954,963 979,973 987,991 1012,993 1027,1003 1029,1013 1004,1013 992,1011 974,1021 972,1058" fill="none" stroke="#151515" stroke-width="4.2" stroke-linejoin="round" stroke-linecap="round"/>
<polyline points="908,292 905,311 892,337 892,369 889,402 898,418 911,434 915,467 925,486 937,493 957,512 963,538 963,564 966,571" fill="none" stroke="#151515" stroke-width="4.2" stroke-linejoin="round" stroke-linecap="round"/>
<polyline points="826,503 859,529 888,555 852,581" fill="none" stroke="#151515" stroke-width="4.2" stroke-linejoin="round" stroke-linecap="round"/>
<polyline points="888,555 908,565 940,575 963,571 995,568 1021,558 1041,549 1047,529 1064,513 1086,494 1106,474 1118,460" fill="none" stroke="#151515" stroke-width="4.2" stroke-linejoin="round" stroke-linecap="round"/>
<polyline points="820,653 840,671 861,692 871,710 880,714 887,726" fill="none" stroke="#151515" stroke-width="4.2" stroke-linejoin="round" stroke-linecap="round"/>
<polyline points="887,726 894,717 908,715 919,722 938,719 947,733 956,733 966,713 968,694 980,687 984,678 998,671 1010,657 1026,650 1040,648 1051,641 1051,655 1044,675 1049,685 1061,680 1072,678 1091,678 1105,673 1123,678 1135,687 1137,703 1147,706 1156,717 1174,719 1188,724 1207,726 1223,722 1230,715" fill="none" stroke="#151515" stroke-width="4.2" stroke-linejoin="round" stroke-linecap="round"/>
<polyline points="1137,703 1123,703 1114,708 1112,722 1096,729 1077,731 1061,740 1049,754 1038,766 1012,775 1000,782 998,801 993,812 984,815" fill="none" stroke="#151515" stroke-width="4.2" stroke-linejoin="round" stroke-linecap="round"/>
<polyline points="887,726 898,740 910,750 905,759 887,761 880,770 887,782 889,796 891,810 910,810 896,817 894,828 910,833 933,831 956,826 980,821 984,815" fill="none" stroke="#151515" stroke-width="4.2" stroke-linejoin="round" stroke-linecap="round"/>
<polyline points="1300,733 1295,743 1290,816 1283,889 1275,962 1266,991" fill="none" stroke="#151515" stroke-width="4.2" stroke-linejoin="round" stroke-linecap="round"/>
<polyline points="1283,889 1292,894 1297,913 1300,942 1305,962 1312,976" fill="none" stroke="#151515" stroke-width="4.2" stroke-linejoin="round" stroke-linecap="round"/>
<polyline points="1278,874 1261,867 1241,877 1222,889 1212,908 1215,933 1222,937 1205,950 1188,959 1168,967 1154,976 1144,984 1134,991 1144,1001 1168,1010 1191,1021" fill="none" stroke="#151515" stroke-width="4.2" stroke-linejoin="round" stroke-linecap="round"/>
<polyline points="1029,1013 1049,1011 1064,1003 1072,986 1054,978 1052,966 1067,963 1094,963 1104,973 1129,968 1149,978 1159,973 1179,966 1194,958 1219,938 1224,938 1212,923 1212,906 1222,888 1242,878 1262,871 1277,873" fill="none" stroke="#151515" stroke-width="4.2" stroke-linejoin="round" stroke-linecap="round"/>
<polyline points="1149,978 1137,991 1154,1003 1179,1018 1184,1023" fill="none" stroke="#151515" stroke-width="4.2" stroke-linejoin="round" stroke-linecap="round"/>
<polyline points="1052,964 1076,959 1096,967 1120,967 1139,976" fill="none" stroke="#151515" stroke-width="4.2" stroke-linejoin="round" stroke-linecap="round"/>
<path d="M412 100L423 110L445 128L479 136L486 169L508 180L527 191L549 182L579 178L609 188L631 199L652 210L670 219L676 231L687 237L699 252L711 249L723 246L729 261L741 279L753 288L762 305L774 311L794 317L812 322L830 317L860 308L869 294L880 288L895 285L916 291L925 302L931 314L946 320L961 329L972 338L984 341L1002 335L1017 326L1023 311L1038 305L1059 297L1082 291L1094 285L1112 271L1136 267L1145 273L1153 294L1165 311L1171 332L1165 353L1159 365L1171 380L1186 397L1177 406L1162 415L1145 433L1133 445L1118 457L1118 487L1124 507L1142 516L1156 531L1171 552L1186 558L1186 576L1183 593L1198 608L1210 623L1222 638L1231 659L1240 680L1245 699L1240 716L1231 727L1209 733L1212 746L1226 755L1242 755L1259 766L1276 772L1290 766L1290 749L1295 735L1309 731L1320 735L1323 749L1334 758L1351 774L1373 774L1390 783L1415 783L1420 799L1443 813L1454 822L1445 841L1462 852L1462 861L1448 874L1443 894L1434 913L1423 930L1415 944L1407 950L1393 950L1373 952L1365 964L1356 980L1345 994L1340 1003L1326 994L1312 975L1300 981L1282 990L1264 996L1256 1007L1245 1018L1241 1025L1227 1027L1215 1029L1204 1022L1189 1022L1182 1027L1178 1038L1163 1048L1167 1066L1182 1074L1186 1083L1175 1092L1165 1100L1156 1107L1145 1122L1134 1133L1123 1144L1113 1152L1100 1161L1091 1153L1086 1140L1082 1129L1067 1122L1058 1114L1043 1103L1034 1094L1019 1088L1008 1081L996 1074L982 1064L972 1061L961 1070L956 1081L943 1092L937 1103L926 1103L911 1092L900 1092L893 1095L871 1106L856 1128L834 1143L823 1165L804 1176L782 1180L760 1191L741 1202L719 1225L708 1239L700 1265L678 1284L674 1302L656 1321L648 1351L637 1364L630 1358L626 1336L611 1306L603 1293L594 1279L583 1264L571 1254L569 1228L554 1226L525 1222L510 1213L503 1208L504 1196L493 1189L494 1176L500 1172L501 1154L507 1150L513 1140L513 1124L504 1117L502 1105L496 1112L481 1115L470 1112L467 1101L455 1098L445 1104L444 1112L451 1124L455 1130L448 1137L447 1148L438 1151L428 1150L420 1156L409 1169L394 1176L380 1177L360 1163L341 1167L315 1156L289 1156L267 1154L234 1148L212 1145L193 1148L178 1159L156 1163L141 1159L148 1148L167 1122L186 1108L208 1093L226 1074L237 1070L230 1052L226 1041L230 1018L223 996L226 981L245 968L223 967L193 978L171 981L163 963L152 948L141 937L126 922L130 900L119 877L100 848L85 822L67 796L52 781L56 774L89 759L104 740L145 733L152 710L163 696L160 677L193 666L208 651L223 640L234 625L260 622L271 611L289 603L297 592L301 566L286 559L282 548L297 540L323 540L327 525L323 507L308 499L308 484L330 473L319 466L327 451L315 436L319 418L349 429L349 407L334 388L323 369L327 347L327 325L341 310L364 288L371 266L390 258L393 240L408 221L408 165L404 110Z" fill="none" stroke="#151515" stroke-width="5.5" stroke-linejoin="round"/>
</g>
<g transform="translate(-14 1402)">
<g clip-path="url(#mclip)">
<path d="M412 100L423 110L445 128L479 136L486 169L508 180L527 191L549 182L579 178L609 188L631 199L652 210L670 219L676 231L687 237L699 252L711 249L723 246L729 261L741 279L753 288L762 305L774 311L794 317L812 322L830 317L860 308L869 294L880 288L895 285L916 291L925 302L931 314L946 320L961 329L972 338L984 341L1002 335L1017 326L1023 311L1038 305L1059 297L1082 291L1094 285L1112 271L1136 267L1145 273L1153 294L1165 311L1171 332L1165 353L1159 365L1171 380L1186 397L1177 406L1162 415L1145 433L1133 445L1118 457L1118 487L1124 507L1142 516L1156 531L1171 552L1186 558L1186 576L1183 593L1198 608L1210 623L1222 638L1231 659L1240 680L1245 699L1240 716L1231 727L1209 733L1212 746L1226 755L1242 755L1259 766L1276 772L1290 766L1290 749L1295 735L1309 731L1320 735L1323 749L1334 758L1351 774L1373 774L1390 783L1415 783L1420 799L1443 813L1454 822L1445 841L1462 852L1462 861L1448 874L1443 894L1434 913L1423 930L1415 944L1407 950L1393 950L1373 952L1365 964L1356 980L1345 994L1340 1003L1326 994L1312 975L1300 981L1282 990L1264 996L1256 1007L1245 1018L1241 1025L1227 1027L1215 1029L1204 1022L1189 1022L1182 1027L1178 1038L1163 1048L1167 1066L1182 1074L1186 1083L1175 1092L1165 1100L1156 1107L1145 1122L1134 1133L1123 1144L1113 1152L1100 1161L1091 1153L1086 1140L1082 1129L1067 1122L1058 1114L1043 1103L1034 1094L1019 1088L1008 1081L996 1074L982 1064L972 1061L961 1070L956 1081L943 1092L937 1103L926 1103L911 1092L900 1092L893 1095L871 1106L856 1128L834 1143L823 1165L804 1176L782 1180L760 1191L741 1202L719 1225L708 1239L700 1265L678 1284L674 1302L656 1321L648 1351L637 1364L630 1358L626 1336L611 1306L603 1293L594 1279L583 1264L571 1254L569 1228L554 1226L525 1222L510 1213L503 1208L504 1196L493 1189L494 1176L500 1172L501 1154L507 1150L513 1140L513 1124L504 1117L502 1105L496 1112L481 1115L470 1112L467 1101L455 1098L445 1104L444 1112L451 1124L455 1130L448 1137L447 1148L438 1151L428 1150L420 1156L409 1169L394 1176L380 1177L360 1163L341 1167L315 1156L289 1156L267 1154L234 1148L212 1145L193 1148L178 1159L156 1163L141 1159L148 1148L167 1122L186 1108L208 1093L226 1074L237 1070L230 1052L226 1041L230 1018L223 996L226 981L245 968L223 967L193 978L171 981L163 963L152 948L141 937L126 922L130 900L119 877L100 848L85 822L67 796L52 781L56 774L89 759L104 740L145 733L152 710L163 696L160 677L193 666L208 651L223 640L234 625L260 622L271 611L289 603L297 592L301 566L286 559L282 548L297 540L323 540L327 525L323 507L308 499L308 484L330 473L319 466L327 451L315 436L319 418L349 429L349 407L334 388L323 369L327 347L327 325L341 310L364 288L371 266L390 258L393 240L408 221L408 165L404 110Z" fill="#ad4829"/>
<g filter="url(#d6)"><polygon points="300,80 1000,80 1100,200 1083,283 1060,302 1080,334 1086,367 1096,399 1102,432 1093,464 1080,497 1076,529 1080,562 1086,594 1080,627 1080,659 1076,692 1076,724 1067,743 1050,769 1041,798 1023,828 998,864 974,889 938,907 918,920 899,933 866,950 834,956 801,953 769,950 736,956 704,959 671,953 639,940 606,925 574,905 540,885 500,860 470,840 450,800 440,760 460,720 500,690 540,660 566,640 589,614 567,574 532,538 496,496 450,470 415,428 379,398 336,382 300,300" fill-opacity="0.950"/><polygon points="336,382 379,398 415,428 430,450 400,460 370,445 340,420" fill-opacity="0.350"/><polygon points="226,1111 280,1105 346,1120 346,1170 226,1170" fill-opacity="0.450"/></g>
<g filter="url(#d7)"><polygon points="346,385 400,375 470,372 540,375 626,402 613,450 600,499 587,548 580,600 567,574 532,538 496,496 450,470 415,428 379,398" fill-opacity="0.500"/><polygon points="587,548 613,450 640,460 700,520 760,560 800,600 797,709 720,760 640,800 580,800 540,760 566,640 580,600" fill-opacity="0.300"/><polygon points="440,760 500,690 540,660 566,640 545,700 518,752 494,789 470,840 450,800" fill-opacity="0.450"/><polygon points="600,900 650,880 720,890 800,900 860,895 920,880 960,860 1000,840 1030,800 1050,760 1060,720 1076,724 1067,743 1050,769 1041,798 1023,828 998,864 974,889 938,907 918,920 899,933 866,950 834,956 801,953 769,950 736,956 704,959 671,953 639,940 606,925" fill-opacity="0.400"/><polygon points="1040,300 1060,302 1080,334 1086,367 1096,399 1102,432 1093,464 1080,497 1076,529 1080,562 1086,594 1080,627 1080,659 1076,692 1060,690 1055,640 1060,580 1055,520 1065,460 1070,400 1060,340" fill-opacity="0.400"/><polygon points="330,290 400,290 410,340 380,390 340,380" fill-opacity="0.300"/></g>
<g filter="url(#d8)"><polygon points="193,692 260,700 330,760 371,850 371,968 339,1058 225,1058 193,968 180,800" fill-opacity="0.350"/><polygon points="340,300 380,300 395,330 370,345 340,340" fill-opacity="0.250"/></g>
<polygon points="1226,727 1215,757 1207,787 1200,809 1188,830 1173,855 1154,879 1134,903 1110,933 1086,957 1066,976 1044,1001 1032,1017 1000,1040 977,1054 965,1070 1100,1250 1500,1250 1500,700" fill="#9c6b2e"/>
<polygon points="1222,660 1248,660 1248,730 1228,728 1232,700" fill="#9c6b2e"/>
<polygon points="470,1188 514,1198 540,1195 566,1187 588,1168 625,1159 655,1161 672,1176 690,1188 705,1200 730,1197 760,1185 782,1172 804,1166 823,1155 834,1135 856,1120 871,1098 880,1095 900,1130 900,1400 470,1400" fill="#9c6b2e"/>
</g>
<polyline points="648,207 640,304 634,353 626,402 613,450 600,499 587,548 579,597 566,640 545,700 518,752 494,789 470,822 450,850 430,890 400,925 365,962 340,995 312,1035 290,1075 275,1112 267,1154" fill="none" stroke="#111" stroke-width="3.2" stroke-linejoin="round" stroke-linecap="round"/>
<polyline points="811,322 804,369 795,434 788,499 783,564 782,638 784,690 799,756 821,800 834,846 843,894 847,927 843,959 831,998 818,1031 808,1073 795,1105 772,1138 746,1170 717,1200 694,1219" fill="none" stroke="#111" stroke-width="3.2" stroke-linejoin="round" stroke-linecap="round"/>
<polyline points="569,1228 640,1224 715,1221" fill="none" stroke="#111" stroke-width="3.2" stroke-linejoin="round" stroke-linecap="round"/>
<polyline points="369,265 395,278 431,285 441,291 447,301 463,298 460,278 470,269 489,265 515,272 535,285 561,298 574,311 584,327 606,340 632,343 639,350 661,356 665,369 671,389 684,405 710,415 736,421 762,434 769,450 791,467 813,495 826,503" fill="none" stroke="#151515" stroke-width="4.2" stroke-linejoin="round" stroke-linecap="round"/>
<polyline points="392,280 405,301 402,317 392,334 356,340 326,347" fill="none" stroke="#151515" stroke-width="4.2" stroke-linejoin="round" stroke-linecap="round"/>
<polyline points="336,382 353,385 379,398 398,411 415,428 428,454 450,470 476,480 496,496 515,515 532,538 554,558 567,574 576,594 589,614 621,627 644,633 657,653 663,672 663,692 680,711 689,731 700,745 715,770 737,790 760,800" fill="none" stroke="#151515" stroke-width="4.2" stroke-linejoin="round" stroke-linecap="round"/>
<polyline points="326,528 339,528 350,522 365,521 391,547 411,580 424,606 417,629 424,658 436,679 446,705 462,731 478,753 488,773 491,796 482,818 475,835" fill="none" stroke="#151515" stroke-width="4.2" stroke-linejoin="round" stroke-linecap="round"/>
<polyline points="261,627 267,659 274,685 287,705 300,728 306,744 313,763 329,770 345,783 355,805 365,818 381,825 404,825 420,818 423,796 433,802 436,815 452,831 462,835 485,838 527,841 550,854 553,877 566,890" fill="none" stroke="#151515" stroke-width="4.2" stroke-linejoin="round" stroke-linecap="round"/>
<polyline points="163,695 183,711 193,731 209,753 212,767 189,770 176,779 180,796 189,818 202,841 215,864 225,877 196,887 183,893 186,913 193,929 209,926 235,935 251,945 261,958 274,965" fill="none" stroke="#151515" stroke-width="4.2" stroke-linejoin="round" stroke-linecap="round"/>
<polyline points="245,967 297,967 339,965 371,962 404,955 420,942 452,939 485,932 517,919 557,895 598,880 631,877 663,870 696,861 720,850 750,832 785,814 821,803" fill="none" stroke="#151515" stroke-width="4.2" stroke-linejoin="round" stroke-linecap="round"/>
<polyline points="566,890 598,874 631,861 663,851 696,841 730,823 753,813 785,807 821,800" fill="none" stroke="#151515" stroke-width="4.2" stroke-linejoin="round" stroke-linecap="round"/>
<polyline points="697,855 681,891 665,920 649,950 639,972 639,985 629,998 606,1008 574,1005 540,1017 533,1049 527,1080 516,1122" fill="none" stroke="#151515" stroke-width="4.2" stroke-linejoin="round" stroke-linecap="round"/>
<polyline points="639,985 649,989 655,1008 665,1037 675,1060 684,1076 697,1096 714,1122 730,1138 749,1148 762,1164 775,1177" fill="none" stroke="#151515" stroke-width="4.2" stroke-linejoin="round" stroke-linecap="round"/>
<polyline points="821,803 853,795 873,872 873,894 853,901 849,930" fill="none" stroke="#151515" stroke-width="4.2" stroke-linejoin="round" stroke-linecap="round"/>
<polyline points="889,872 912,888 921,911 931,933 941,953 954,963 979,973 987,991 1012,993 1027,1003 1029,1013 1004,1013 992,1011 974,1021 972,1058" fill="none" stroke="#151515" stroke-width="4.2" stroke-linejoin="round" stroke-linecap="round"/>
<polyline points="908,292 905,311 892,337 892,369 889,402 898,418 911,434 915,467 925,486 937,493 957,512 963,538 963,564 966,571" fill="none" stroke="#151515" stroke-width="4.2" stroke-linejoin="round" stroke-linecap="round"/>
<polyline points="826,503 859,529 888,555 852,581" fill="none" stroke="#151515" stroke-width="4.2" stroke-linejoin="round" stroke-linecap="round"/>
<polyline points="888,555 908,565 940,575 963,571 995,568 1021,558 1041,549 1047,529 1064,513 1086,494 1106,474 1118,460" fill="none" stroke="#151515" stroke-width="4.2" stroke-linejoin="round" stroke-linecap="round"/>
<polyline points="820,653 840,671 861,692 871,710 880,714 887,726" fill="none" stroke="#151515" stroke-width="4.2" stroke-linejoin="round" stroke-linecap="round"/>
<polyline points="887,726 894,717 908,715 919,722 938,719 947,733 956,733 966,713 968,694 980,687 984,678 998,671 1010,657 1026,650 1040,648 1051,641 1051,655 1044,675 1049,685 1061,680 1072,678 1091,678 1105,673 1123,678 1135,687 1137,703 1147,706 1156,717 1174,719 1188,724 1207,726 1223,722 1230,715" fill="none" stroke="#151515" stroke-width="4.2" stroke-linejoin="round" stroke-linecap="round"/>
<polyline points="1137,703 1123,703 1114,708 1112,722 1096,729 1077,731 1061,740 1049,754 1038,766 1012,775 1000,782 998,801 993,812 984,815" fill="none" stroke="#151515" stroke-width="4.2" stroke-linejoin="round" stroke-linecap="round"/>
<polyline points="887,726 898,740 910,750 905,759 887,761 880,770 887,782 889,796 891,810 910,810 896,817 894,828 910,833 933,831 956,826 980,821 984,815" fill="none" stroke="#151515" stroke-width="4.2" stroke-linejoin="round" stroke-linecap="round"/>
<polyline points="1300,733 1295,743 1290,816 1283,889 1275,962 1266,991" fill="none" stroke="#151515" stroke-width="4.2" stroke-linejoin="round" stroke-linecap="round"/>
<polyline points="1283,889 1292,894 1297,913 1300,942 1305,962 1312,976" fill="none" stroke="#151515" stroke-width="4.2" stroke-linejoin="round" stroke-linecap="round"/>
<polyline points="1278,874 1261,867 1241,877 1222,889 1212,908 1215,933 1222,937 1205,950 1188,959 1168,967 1154,976 1144,984 1134,991 1144,1001 1168,1010 1191,1021" fill="none" stroke="#151515" stroke-width="4.2" stroke-linejoin="round" stroke-linecap="round"/>
<polyline points="1029,1013 1049,1011 1064,1003 1072,986 1054,978 1052,966 1067,963 1094,963 1104,973 1129,968 1149,978 1159,973 1179,966 1194,958 1219,938 1224,938 1212,923 1212,906 1222,888 1242,878 1262,871 1277,873" fill="none" stroke="#151515" stroke-width="4.2" stroke-linejoin="round" stroke-linecap="round"/>
<polyline points="1149,978 1137,991 1154,1003 1179,1018 1184,1023" fill="none" stroke="#151515" stroke-width="4.2" stroke-linejoin="round" stroke-linecap="round"/>
<polyline points="1052,964 1076,959 1096,967 1120,967 1139,976" fill="none" stroke="#151515" stroke-width="4.2" stroke-linejoin="round" stroke-linecap="round"/>
<path d="M412 100L423 110L445 128L479 136L486 169L508 180L527 191L549 182L579 178L609 188L631 199L652 210L670 219L676 231L687 237L699 252L711 249L723 246L729 261L741 279L753 288L762 305L774 311L794 317L812 322L830 317L860 308L869 294L880 288L895 285L916 291L925 302L931 314L946 320L961 329L972 338L984 341L1002 335L1017 326L1023 311L1038 305L1059 297L1082 291L1094 285L1112 271L1136 267L1145 273L1153 294L1165 311L1171 332L1165 353L1159 365L1171 380L1186 397L1177 406L1162 415L1145 433L1133 445L1118 457L1118 487L1124 507L1142 516L1156 531L1171 552L1186 558L1186 576L1183 593L1198 608L1210 623L1222 638L1231 659L1240 680L1245 699L1240 716L1231 727L1209 733L1212 746L1226 755L1242 755L1259 766L1276 772L1290 766L1290 749L1295 735L1309 731L1320 735L1323 749L1334 758L1351 774L1373 774L1390 783L1415 783L1420 799L1443 813L1454 822L1445 841L1462 852L1462 861L1448 874L1443 894L1434 913L1423 930L1415 944L1407 950L1393 950L1373 952L1365 964L1356 980L1345 994L1340 1003L1326 994L1312 975L1300 981L1282 990L1264 996L1256 1007L1245 1018L1241 1025L1227 1027L1215 1029L1204 1022L1189 1022L1182 1027L1178 1038L1163 1048L1167 1066L1182 1074L1186 1083L1175 1092L1165 1100L1156 1107L1145 1122L1134 1133L1123 1144L1113 1152L1100 1161L1091 1153L1086 1140L1082 1129L1067 1122L1058 1114L1043 1103L1034 1094L1019 1088L1008 1081L996 1074L982 1064L972 1061L961 1070L956 1081L943 1092L937 1103L926 1103L911 1092L900 1092L893 1095L871 1106L856 1128L834 1143L823 1165L804 1176L782 1180L760 1191L741 1202L719 1225L708 1239L700 1265L678 1284L674 1302L656 1321L648 1351L637 1364L630 1358L626 1336L611 1306L603 1293L594 1279L583 1264L571 1254L569 1228L554 1226L525 1222L510 1213L503 1208L504 1196L493 1189L494 1176L500 1172L501 1154L507 1150L513 1140L513 1124L504 1117L502 1105L496 1112L481 1115L470 1112L467 1101L455 1098L445 1104L444 1112L451 1124L455 1130L448 1137L447 1148L438 1151L428 1150L420 1156L409 1169L394 1176L380 1177L360 1163L341 1167L315 1156L289 1156L267 1154L234 1148L212 1145L193 1148L178 1159L156 1163L141 1159L148 1148L167 1122L186 1108L208 1093L226 1074L237 1070L230 1052L226 1041L230 1018L223 996L226 981L245 968L223 967L193 978L171 981L163 963L152 948L141 937L126 922L130 900L119 877L100 848L85 822L67 796L52 781L56 774L89 759L104 740L145 733L152 710L163 696L160 677L193 666L208 651L223 640L234 625L260 622L271 611L289 603L297 592L301 566L286 559L282 548L297 540L323 540L327 525L323 507L308 499L308 484L330 473L319 466L327 451L315 436L319 418L349 429L349 407L334 388L323 369L327 347L327 325L341 310L364 288L371 266L390 258L393 240L408 221L408 165L404 110Z" fill="none" stroke="#151515" stroke-width="5.5" stroke-linejoin="round"/>
</g>
<g transform="translate(0 0)"><text x="216.5" y="191" font-size="62" font-family="'Liberation Serif',serif" text-anchor="middle">N</text><path d="M220 204 L244 285 L220 257 Z" fill="#fff" stroke="#000" stroke-width="3" stroke-linejoin="round"/><path d="M220 204 L195 285 L220 257 Z" fill="#000" stroke="#000" stroke-width="2" stroke-linejoin="round"/></g>
<g transform="translate(1750 0)"><text x="216.5" y="191" font-size="62" font-family="'Liberation Serif',serif" text-anchor="middle">N</text><path d="M220 204 L244 285 L220 257 Z" fill="#fff" stroke="#000" stroke-width="3" stroke-linejoin="round"/><path d="M220 204 L195 285 L220 257 Z" fill="#000" stroke="#000" stroke-width="2" stroke-linejoin="round"/></g>
<g transform="translate(0 1410)"><text x="216.5" y="191" font-size="62" font-family="'Liberation Serif',serif" text-anchor="middle">N</text><path d="M220 204 L244 285 L220 257 Z" fill="#fff" stroke="#000" stroke-width="3" stroke-linejoin="round"/><path d="M220 204 L195 285 L220 257 Z" fill="#000" stroke="#000" stroke-width="2" stroke-linejoin="round"/></g>
<g transform="translate(0 0)"><text x="1290" y="191" font-size="62" font-weight="600" font-family="'Noto Serif CJK SC',serif">贡献度</text><text x="1288" y="252" font-size="61" font-family="'Liberation Serif',serif">/(g·m<tspan font-size="36" dy="-23">-2</tspan><tspan dy="23">·a</tspan><tspan font-size="36" dy="-23">-1</tspan><tspan dy="23">)</tspan></text><rect x="1306" y="294" width="39" height="390" fill="#000"/><rect x="1310" y="296" width="31" height="128" fill="#3c2f7d"/><rect x="1310" y="424" width="31" height="132" fill="#e5322d"/><rect x="1310" y="556" width="31" height="125" fill="#efe99b"/><rect x="1310" y="421" width="31" height="4" fill="#7a7a7a"/><rect x="1310" y="552" width="31" height="4" fill="#7a7a7a"/><text x="1364" y="320" font-size="63" font-family="'Liberation Serif',serif">0.010</text><text x="1364" y="445" font-size="63" font-family="'Liberation Serif',serif">0.001</text><text x="1364" y="566" font-size="63" font-family="'Liberation Serif',serif">0.000</text><text x="1364" y="689" font-size="63" font-family="'Liberation Serif',serif">-0.013</text></g>
<g transform="translate(1747 0)"><text x="1290" y="191" font-size="62" font-weight="600" font-family="'Noto Serif CJK SC',serif">贡献度</text><text x="1288" y="252" font-size="61" font-family="'Liberation Serif',serif">/(g·m<tspan font-size="36" dy="-23">-2</tspan><tspan dy="23">·a</tspan><tspan font-size="36" dy="-23">-1</tspan><tspan dy="23">)</tspan></text><rect x="1306" y="294" width="39" height="390" fill="#000"/><rect x="1310" y="296" width="31" height="128" fill="#3d2c68"/><rect x="1310" y="424" width="31" height="132" fill="#5673b1"/><rect x="1310" y="556" width="31" height="125" fill="#bfe1dd"/><rect x="1310" y="421" width="31" height="4" fill="#7a7a7a"/><rect x="1310" y="552" width="31" height="4" fill="#7a7a7a"/><text x="1364" y="320" font-size="63" font-family="'Liberation Serif',serif">0.57</text><text x="1364" y="445" font-size="63" font-family="'Liberation Serif',serif">0.22</text><text x="1364" y="566" font-size="63" font-family="'Liberation Serif',serif">0.00</text><text x="1364" y="689" font-size="63" font-family="'Liberation Serif',serif">-0.45</text></g>
<g transform="translate(0 1411)"><text x="1290" y="191" font-size="62" font-weight="600" font-family="'Noto Serif CJK SC',serif">贡献度</text><text x="1288" y="252" font-size="61" font-family="'Liberation Serif',serif">/(g·m<tspan font-size="36" dy="-23">-2</tspan><tspan dy="23">·a</tspan><tspan font-size="36" dy="-23">-1</tspan><tspan dy="23">)</tspan></text><rect x="1306" y="294" width="39" height="390" fill="#000"/><rect x="1310" y="296" width="31" height="128" fill="#edbf78"/><rect x="1310" y="424" width="31" height="132" fill="#ad4829"/><rect x="1310" y="556" width="31" height="125" fill="#9c6b2e"/><rect x="1310" y="421" width="31" height="4" fill="#7a7a7a"/><rect x="1310" y="552" width="31" height="4" fill="#7a7a7a"/><text x="1364" y="320" font-size="63" font-family="'Liberation Serif',serif">9.38</text><text x="1364" y="445" font-size="63" font-family="'Liberation Serif',serif">4.03</text><text x="1364" y="566" font-size="63" font-family="'Liberation Serif',serif">0.00</text><text x="1364" y="689" font-size="63" font-family="'Liberation Serif',serif">-6.69</text></g>
<g transform="translate(0 0)"><rect x="896" y="1249" width="259" height="24" fill="#000"/><rect x="1027" y="1254" width="123" height="14" fill="#fff"/><text x="900" y="1234" font-size="64" font-family="'Liberation Serif',serif" text-anchor="middle">0</text><text x="1026" y="1234" font-size="64" font-family="'Liberation Serif',serif" text-anchor="middle">50</text><text x="1108" y="1234" font-size="64" font-family="'Liberation Serif',serif">100 km</text></g>
<g transform="translate(1748 0)"><rect x="896" y="1249" width="259" height="24" fill="#000"/><rect x="1027" y="1254" width="123" height="14" fill="#fff"/><text x="900" y="1234" font-size="64" font-family="'Liberation Serif',serif" text-anchor="middle">0</text><text x="1026" y="1234" font-size="64" font-family="'Liberation Serif',serif" text-anchor="middle">50</text><text x="1108" y="1234" font-size="64" font-family="'Liberation Serif',serif">100 km</text></g>
<g transform="translate(0 1410)"><rect x="896" y="1249" width="259" height="24" fill="#000"/><rect x="1027" y="1254" width="123" height="14" fill="#fff"/><text x="900" y="1234" font-size="64" font-family="'Liberation Serif',serif" text-anchor="middle">0</text><text x="1026" y="1234" font-size="64" font-family="'Liberation Serif',serif" text-anchor="middle">50</text><text x="1108" y="1234" font-size="64" font-family="'Liberation Serif',serif">100 km</text></g>
<text x="199" y="65" font-size="64" font-family="'Liberation Serif',serif">A:</text>
<text x="276" y="70" font-size="64" font-weight="600" font-family="'Noto Serif CJK SC',serif" letter-spacing="-1.25">气温贡献度</text>
<text x="1947" y="65" font-size="64" font-family="'Liberation Serif',serif">B:</text>
<text x="2023" y="70" font-size="64" font-weight="600" font-family="'Noto Serif CJK SC',serif" letter-spacing="-1">降水贡献度</text>
<text x="200" y="1476" font-size="64" font-family="'Liberation Serif',serif">C:</text>
<text x="276" y="1482" font-size="64" font-weight="600" font-family="'Noto Serif CJK SC',serif" letter-spacing="-2">日照时数贡献度</text>
<text x="1707" y="1475" font-size="64" font-family="'Liberation Serif',serif">D:</text>
<text x="1785" y="1481" font-size="64" font-weight="600" font-family="'Noto Serif CJK SC',serif" letter-spacing="-1.7">正负作用面积占比</text>
<text x="2190" y="1574.5" font-size="64" font-family="'Liberation Serif','Noto Serif CJK SC',serif" letter-spacing="-1.25"><tspan font-weight="600" font-family="'Noto Serif CJK SC',serif">正负作用面积占比</tspan>/%</text>
<text x="1739" y="1646" font-size="65" font-family="'Liberation Serif',serif" text-anchor="middle">-100</text>
<text x="1884.5" y="1646" font-size="65" font-family="'Liberation Serif',serif" text-anchor="middle">-80</text>
<text x="2014" y="1646" font-size="65" font-family="'Liberation Serif',serif" text-anchor="middle">-60</text>
<text x="2159.5" y="1646" font-size="65" font-family="'Liberation Serif',serif" text-anchor="middle">-40</text>
<text x="2305.5" y="1646" font-size="65" font-family="'Liberation Serif',serif" text-anchor="middle">-20</text>
<text x="2440.5" y="1646" font-size="65" font-family="'Liberation Serif',serif" text-anchor="middle">0</text>
<text x="2566.5" y="1646" font-size="65" font-family="'Liberation Serif',serif" text-anchor="middle">20</text>
<text x="2706.5" y="1646" font-size="65" font-family="'Liberation Serif',serif" text-anchor="middle">40</text>
<text x="2848" y="1646" font-size="65" font-family="'Liberation Serif',serif" text-anchor="middle">60</text>
<text x="2990" y="1646" font-size="65" font-family="'Liberation Serif',serif" text-anchor="middle">80</text>
<text x="3130.5" y="1646" font-size="65" font-family="'Liberation Serif',serif" text-anchor="middle">100</text>
<rect x="2222.4" y="1679.0" width="216.1" height="28" fill="#6d8dbe"/>
<rect x="2438.5" y="1679.0" width="473.7" height="28" fill="#df7a3b"/>
<text x="1720" y="1714" font-size="48.5" font-family="'Liberation Serif',serif" text-anchor="end">H</text>
<rect x="2355.6" y="1722.1" width="82.9" height="28" fill="#6d8dbe"/>
<rect x="2438.5" y="1722.1" width="608.3" height="28" fill="#df7a3b"/>
<text x="1720" y="1755.85" font-size="48.5" font-family="'Liberation Serif',serif" text-anchor="end">C</text>
<rect x="2343.2" y="1765.2" width="95.3" height="28" fill="#6d8dbe"/>
<rect x="2438.5" y="1765.2" width="593.8" height="28" fill="#df7a3b"/>
<text x="1720" y="1797.7" font-size="48.5" font-family="'Liberation Serif',serif" text-anchor="end">Sr</text>
<rect x="2007.6" y="1808.3" width="430.9" height="28" fill="#6d8dbe"/>
<rect x="2438.5" y="1808.3" width="258.2" height="28" fill="#df7a3b"/>
<text x="1720" y="1839.55" font-size="48.5" font-family="'Liberation Serif',serif" text-anchor="end">Tem</text>
<rect x="2391.5" y="1851.4" width="47.0" height="28" fill="#6d8dbe"/>
<rect x="2438.5" y="1851.4" width="642.9" height="28" fill="#df7a3b"/>
<text x="1720" y="1881.4" font-size="48.5" font-family="'Liberation Serif',serif" text-anchor="end">Pre</text>
<rect x="2421.9" y="1937.6" width="16.6" height="28" fill="#6d8dbe"/>
<rect x="2438.5" y="1937.6" width="676.0" height="28" fill="#df7a3b"/>
<text x="1720" y="1971.9" font-size="48.5" font-family="'Liberation Serif',serif" text-anchor="end">H</text>
<rect x="1761.8" y="1980.7" width="676.7" height="28" fill="#6d8dbe"/>
<rect x="2438.5" y="1980.7" width="15.2" height="28" fill="#df7a3b"/>
<text x="1720" y="2013.75" font-size="48.5" font-family="'Liberation Serif',serif" text-anchor="end">C</text>
<rect x="1760.4" y="2023.8" width="678.1" height="28" fill="#6d8dbe"/>
<rect x="2438.5" y="2023.8" width="13.1" height="28" fill="#df7a3b"/>
<text x="1720" y="2055.6" font-size="48.5" font-family="'Liberation Serif',serif" text-anchor="end">Sr</text>
<rect x="2379.8" y="2066.9" width="58.7" height="28" fill="#6d8dbe"/>
<rect x="2438.5" y="2066.9" width="631.8" height="28" fill="#df7a3b"/>
<text x="1720" y="2097.45" font-size="48.5" font-family="'Liberation Serif',serif" text-anchor="end">Tem</text>
<rect x="2020.7" y="2110.0" width="417.8" height="28" fill="#6d8dbe"/>
<rect x="2438.5" y="2110.0" width="273.4" height="28" fill="#df7a3b"/>
<text x="1720" y="2139.3" font-size="48.5" font-family="'Liberation Serif',serif" text-anchor="end">Pre</text>
<rect x="2109.8" y="2196.2" width="328.7" height="28" fill="#6d8dbe"/>
<rect x="2438.5" y="2196.2" width="363.2" height="28" fill="#df7a3b"/>
<text x="1720" y="2229.8" font-size="48.5" font-family="'Liberation Serif',serif" text-anchor="end">H</text>
<rect x="2320.4" y="2239.3" width="118.1" height="28" fill="#6d8dbe"/>
<rect x="2438.5" y="2239.3" width="571.0" height="28" fill="#df7a3b"/>
<text x="1720" y="2271.65" font-size="48.5" font-family="'Liberation Serif',serif" text-anchor="end">C</text>
<rect x="2307.3" y="2282.4" width="131.2" height="28" fill="#6d8dbe"/>
<rect x="2438.5" y="2282.4" width="560.0" height="28" fill="#df7a3b"/>
<text x="1720" y="2313.5" font-size="48.5" font-family="'Liberation Serif',serif" text-anchor="end">Sr</text>
<rect x="2004.2" y="2325.5" width="434.3" height="28" fill="#6d8dbe"/>
<rect x="2438.5" y="2325.5" width="256.2" height="28" fill="#df7a3b"/>
<text x="1720" y="2355.35" font-size="48.5" font-family="'Liberation Serif',serif" text-anchor="end">Tem</text>
<rect x="2386.0" y="2368.6" width="52.5" height="28" fill="#6d8dbe"/>
<rect x="2438.5" y="2368.6" width="638.0" height="28" fill="#df7a3b"/>
<text x="1720" y="2397.2" font-size="48.5" font-family="'Liberation Serif',serif" text-anchor="end">Pre</text>
<rect x="2278.3" y="2454.8" width="160.2" height="28" fill="#6d8dbe"/>
<rect x="2438.5" y="2454.8" width="531.0" height="28" fill="#df7a3b"/>
<text x="1720" y="2487.7" font-size="48.5" font-family="'Liberation Serif',serif" text-anchor="end">H</text>
<rect x="2408.8" y="2497.9" width="29.7" height="28" fill="#6d8dbe"/>
<rect x="2438.5" y="2497.9" width="660.8" height="28" fill="#df7a3b"/>
<text x="1720" y="2529.55" font-size="48.5" font-family="'Liberation Serif',serif" text-anchor="end">C</text>
<rect x="2397.1" y="2541.0" width="41.4" height="28" fill="#6d8dbe"/>
<rect x="2438.5" y="2541.0" width="647.0" height="28" fill="#df7a3b"/>
<text x="1720" y="2571.4" font-size="48.5" font-family="'Liberation Serif',serif" text-anchor="end">Sr</text>
<rect x="1989.0" y="2584.1" width="449.5" height="28" fill="#6d8dbe"/>
<rect x="2438.5" y="2584.1" width="240.3" height="28" fill="#df7a3b"/>
<text x="1720" y="2613.25" font-size="48.5" font-family="'Liberation Serif',serif" text-anchor="end">Tem</text>
<rect x="2414.3" y="2627.2" width="24.2" height="28" fill="#6d8dbe"/>
<rect x="2438.5" y="2627.2" width="665.0" height="28" fill="#df7a3b"/>
<text x="1720" y="2655.1" font-size="48.5" font-family="'Liberation Serif',serif" text-anchor="end">Pre</text>
<text x="3117" y="1814.5" font-size="62" font-weight="600" font-family="'Noto Serif CJK SC',serif">科尔沁沙地</text>
<text x="3117" y="2069" font-size="62" font-weight="600" font-family="'Noto Serif CJK SC',serif">湿润区</text>
<text x="3117" y="2325" font-size="62" font-weight="600" font-family="'Noto Serif CJK SC',serif">半湿润区</text>
<text x="3117" y="2580.5" font-size="62" font-weight="600" font-family="'Noto Serif CJK SC',serif">半干旱区</text>
<line x1="1722" y1="1900" x2="3200" y2="1900" stroke="#5a5048" stroke-width="5" stroke-dasharray="36 6.4"/>
<line x1="1722" y1="2165" x2="3200" y2="2165" stroke="#5a5048" stroke-width="5" stroke-dasharray="36 6.4"/>
<line x1="1722" y1="2432" x2="3200" y2="2432" stroke="#5a5048" stroke-width="5" stroke-dasharray="36 6.4"/>
<line x1="2438.5" y1="1668" x2="2438.5" y2="2674" stroke="#4a4440" stroke-width="3"/>
<line x1="1744" y1="1666" x2="3131" y2="1666" stroke="#000" stroke-width="7.5"/>
<line x1="1748" y1="1666" x2="1748" y2="1685.5" stroke="#000" stroke-width="5.7"/>
<line x1="1886.1" y1="1666" x2="1886.1" y2="1685.5" stroke="#000" stroke-width="5.7"/>
<line x1="2024.2" y1="1666" x2="2024.2" y2="1685.5" stroke="#000" stroke-width="5.7"/>
<line x1="2162.3" y1="1666" x2="2162.3" y2="1685.5" stroke="#000" stroke-width="5.7"/>
<line x1="2300.4" y1="1666" x2="2300.4" y2="1685.5" stroke="#000" stroke-width="5.7"/>
<line x1="2438.5" y1="1666" x2="2438.5" y2="1685.5" stroke="#000" stroke-width="5.7"/>
<line x1="2576.6" y1="1666" x2="2576.6" y2="1685.5" stroke="#000" stroke-width="5.7"/>
<line x1="2714.7" y1="1666" x2="2714.7" y2="1685.5" stroke="#000" stroke-width="5.7"/>
<line x1="2852.8" y1="1666" x2="2852.8" y2="1685.5" stroke="#000" stroke-width="5.7"/>
<line x1="2990.9" y1="1666" x2="2990.9" y2="1685.5" stroke="#000" stroke-width="5.7"/>
<line x1="3129" y1="1666" x2="3129" y2="1685.5" stroke="#000" stroke-width="5.7"/>
<rect x="1748.5" y="2324" width="8" height="3" fill="#444"/>
<rect x="1748.5" y="2590" width="8" height="3" fill="#444"/>
<rect x="2145" y="2727" width="23" height="21" fill="#6d8dbe"/>
<text x="2185" y="2759" font-size="63" font-weight="600" font-family="'Noto Serif CJK SC',serif">负向作用</text>
<rect x="2490" y="2725" width="26" height="25" fill="#df7a3b"/>
<text x="2533" y="2760" font-size="63" font-weight="600" font-family="'Noto Serif CJK SC',serif">正向作用</text>
</svg>
</body></html>
